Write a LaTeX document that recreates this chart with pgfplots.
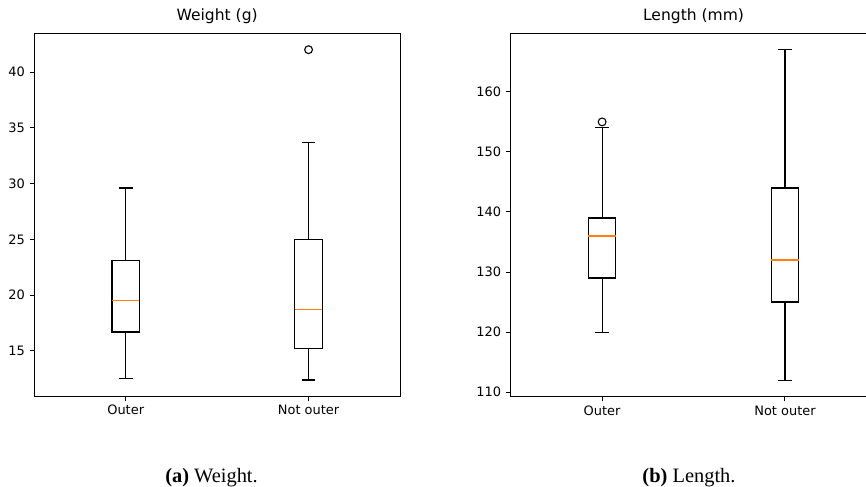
\documentclass[border=0pt]{standalone}
\usepackage{pgfplots}
\pgfplotsset{compat=1.18}
\usepgfplotslibrary{statistics}
\usepackage{fontspec}
\setmainfont{DejaVu Sans}
\newfontfamily\capfont{Liberation Serif}
\definecolor{mplorange}{HTML}{FF7F0E}
\pgfplotsset{
  mpl/.style={
    scale only axis, width=365.7bp, height=363.4bp,
    xmin=0.5, xmax=2.5, xtick={1,2}, xticklabels={Outer,Not outer},
    axis line style={line width=1bp, black},
    tick align=outside, xtick pos=bottom, ytick pos=left,
    major tick length=4.6bp,
    every tick/.style={black, line width=1bp},
    tick label style={font=\fontsize{13}{15}\selectfont},
    /pgf/number format/assume math mode=true,
    title style={font=\fontsize{15.6}{18}\selectfont, at={(0.5,1)}, anchor=base, yshift=6.7bp, inner sep=0pt},
    xticklabel style={anchor=base, inner sep=0pt, yshift=-13.7bp},
    yticklabel style={anchor=east, inner sep=0pt, xshift=-4.7bp},
    boxplot/draw direction=y,
    boxplot/box extend=0.15,
    boxplot/whisker extend=0.075,
    boxplot/every box/.style={draw=black, line width=1.2bp},
    boxplot/every whisker/.style={draw=black, line width=1.2bp},
    boxplot/every median/.style={draw=mplorange, line width=1.2bp},
    clip=false,
  },
  flier/.style={black, line width=1.2bp, mark=o, mark size=3.9bp, mark options={black, line width=1.1bp, fill=none}},
}
\begin{document}
\begin{tikzpicture}
\begin{axis}[mpl, at={(34.3bp,90.3bp)}, anchor=south west,
  ymin=10.9, ymax=43.47, ytick={15,20,25,30,35,40}, title={Weight (g)}]
\addplot[flier, boxplot prepared={draw position=1, lower whisker=12.5, lower quartile=16.7, median=19.5, upper quartile=23.1, upper whisker=29.6}] coordinates {};
\addplot[flier, boxplot prepared={draw position=2, lower whisker=12.4, lower quartile=15.2, median=18.7, upper quartile=25.0, upper whisker=33.7}] coordinates {(0,42)};
\end{axis}
\begin{axis}[mpl, at={(510.7bp,90.3bp)}, anchor=south west,
  ymin=109.25, ymax=169.75, ytick={110,120,130,140,150,160}, title={Length (mm)}]
\addplot[flier, boxplot prepared={draw position=1, lower whisker=120, lower quartile=129, median=136, upper quartile=139, upper whisker=154}] coordinates {(0,155)};
\addplot[flier, boxplot prepared={draw position=2, lower whisker=112, lower quartile=125, median=132, upper quartile=144, upper whisker=167}] coordinates {};
\end{axis}
\node[font=\capfont\fontsize{20.5}{24}\selectfont, anchor=base, inner sep=0pt] at (211.5bp,4.7bp) {\textbf{(a)} Weight.};
\node[font=\capfont\fontsize{20.5}{24}\selectfont, anchor=base, inner sep=0pt] at (689bp,4.7bp) {\textbf{(b)} Length.};
\pgfresetboundingbox
\path[use as bounding box] (0,0) rectangle (866bp,487bp);
\end{tikzpicture}
\end{document}
